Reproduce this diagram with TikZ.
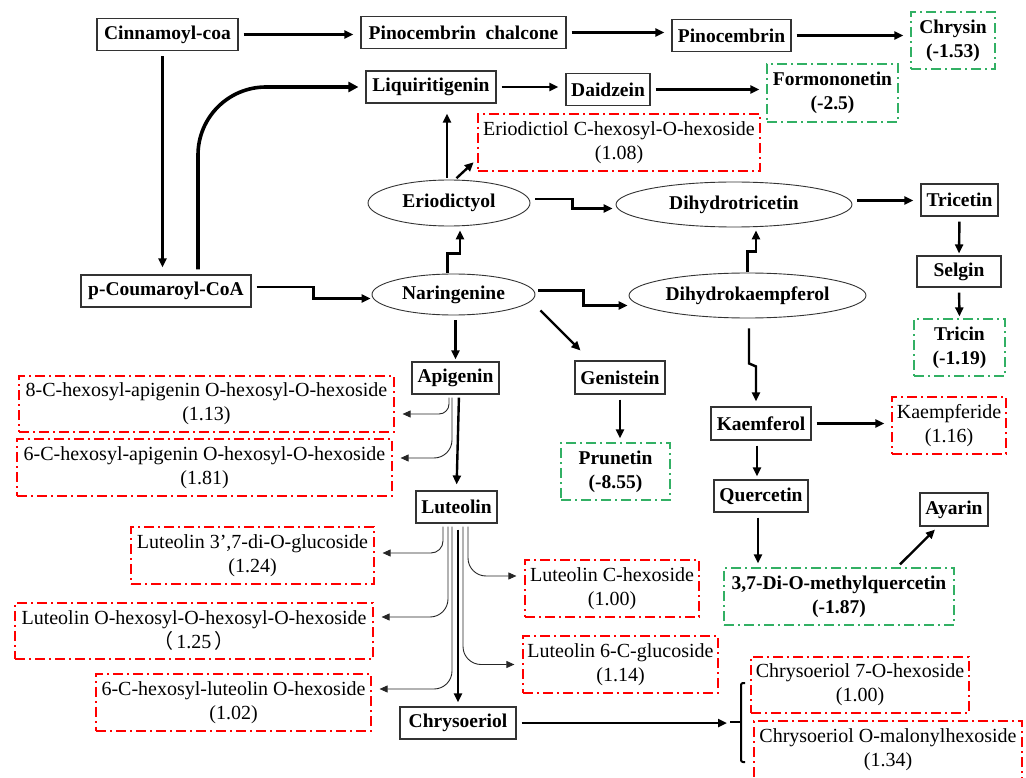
\documentclass[tikz,border=0pt]{standalone}
\usepackage{fontspec}
\setmainfont{Liberation Serif}
\newfontfamily\cjk{Noto Sans CJK SC}
\usepackage{tikz}
\usetikzlibrary{calc,arrows.meta,shapes.geometric}
\definecolor{dgreen}{RGB}{50,176,100}

\begin{document}
\begin{tikzpicture}[x=1pt,y=-1pt,
  font=\fontsize{20}{24}\selectfont,
  >={Triangle[length=9pt,width=8pt]},
  box/.style={draw=black!80,line width=1.1pt,font=\fontsize{19.5}{24}\selectfont\bfseries,inner sep=0pt,minimum height=32pt},
  oval/.style={ellipse,draw=black!80,line width=0.9pt,font=\fontsize{19.5}{24}\selectfont\bfseries,inner sep=0pt},
  redbox/.style={draw=red,line width=1.2pt,dash pattern=on 10pt off 4pt on 2pt off 4pt,align=center,inner sep=0pt,minimum height=57pt},
  greenbox/.style={redbox,draw=dgreen,font=\fontsize{19.5}{24}\selectfont\bfseries},
  arr/.style={->,line width=2.4pt,shorten <=5pt,shorten >=7pt},
  thin/.style={->,draw=black!85,line width=0.9pt,rounded corners=18pt,shorten <=3pt,shorten >=8pt,>={Triangle[length=8pt,width=7pt]}}]
\useasboundingbox (0,0) rectangle (1026,778);
% Top row
\node[box,minimum width=141pt] (cin) at (167.5,34.5) {Cinnamoyl-coa};
\node[box,minimum width=205pt] (pch) at (463.5,32.5) {Pinocembrin~ chalcone};
\node[box,minimum width=119pt] (pin) at (731.5,35.5) {Pinocembrin};
\node[greenbox,minimum width=84pt] (chr) at (953,40.5) {Chrysin\\(-1.53)};
\node[box,minimum width=130pt] (liq) at (431,87) {Liquiritigenin};
\node[box,minimum width=84pt] (dai) at (608,89.5) {Daidzein};
\node[greenbox,minimum width=131pt,minimum height=58pt] (frm) at (832.5,93) {Formononetin\\(-2.5)};
\node[redbox,minimum width=282pt] (erg) at (619,142.5) {Eriodictiol C-hexosyl-O-hexoside\\(1.08)};
% Ovals
\node[oval,minimum width=162pt,minimum height=46pt] (eri) at (449,203) {Eriodictyol};
\node[oval,minimum width=236pt,minimum height=45pt] (dht) at (734,204.5) {Dihydrotricetin};
\node[oval,minimum width=163pt,minimum height=41pt] (nar) at (453.5,294.5) {Naringenine};
\node[oval,minimum width=237pt,minimum height=45pt] (dhk) at (747.5,295.5) {Dihydrokaempferol};
% Right column
\node[box,minimum width=77pt] (tce) at (959.5,200) {Tricetin};
\node[box,minimum width=84pt,minimum height=31pt] (sel) at (959,271.5) {Selgin};
\node[greenbox,minimum width=91pt] (tri) at (959.5,347.5) {Tricin\\(-1.19)};
\node[box,minimum width=170pt] (cou) at (166,291) {p-Coumaroyl-CoA};
% Middle
\node[box,minimum width=90pt,minimum height=33pt] (gen) at (620,377.5) {Genistein};
\node[greenbox,minimum width=109pt] (pru) at (615.5,471.5) {Prunetin\\(-8.55)};
\node[box,minimum width=100pt,minimum height=33pt] (kae) at (761,423.5) {Kaemferol};
\node[redbox,minimum width=114pt] (kfd) at (949,425.5) {Kaempferide\\(1.16)};
\node[box,minimum width=94pt] (que) at (761,496) {Quercetin};
\node[box,minimum width=68pt,minimum height=33pt] (aya) at (954,509.5) {Ayarin};
\node[greenbox,minimum width=230pt] (dmq) at (839,596.5) {3,7-Di-O-methylquercetin\\(-1.87)};
% Apigenin and Luteolin
\node[box,minimum width=87pt] (api) at (455.5,378) {Apigenin};
\node[redbox,minimum width=375pt,minimum height=56pt] (ag8) at (206.5,404) {8-C-hexosyl-apigenin O-hexosyl-O-hexoside\\(1.13)};
\node[redbox,minimum width=375pt] (ag6) at (204.5,467.5) {6-C-hexosyl-apigenin O-hexosyl-O-hexoside\\(1.81)};
\node[box,minimum width=81pt] (lut) at (456.5,507) {Luteolin};
\node[redbox,minimum width=243pt] (lg1) at (252.5,555.5) {Luteolin 3’,7-di-O-glucoside\\(1.24)};
\node[redbox,minimum width=358pt,minimum height=56pt] (lg2) at (194,631) {Luteolin O-hexosyl-O-hexosyl-O-hexoside\\{\cjk （}\,1.25\,{\cjk ）}};
\node[redbox,minimum width=275pt] (lg3) at (233.5,702.5) {6-C-hexosyl-luteolin O-hexoside\\(1.02)};
\node[redbox,minimum width=174pt] (lch) at (612,588.5) {Luteolin C-hexoside\\(1.00)};
\node[redbox,minimum width=195pt] (l6c) at (620.5,664.5) {Luteolin 6-C-glucoside\\(1.14)};
\node[box,minimum width=116pt] (cso) at (458,723) {Chrysoeriol};
\node[redbox,minimum width=218pt,minimum height=56pt] (ch7) at (860,685) {Chrysoeriol 7-O-hexoside\\(1.00)};
\node[redbox,minimum width=268pt,minimum height=58pt] (chm) at (888,750) {Chrysoeriol O-malonylhexoside\\(1.34)};
\coordinate (brc) at (730,722);
% Top arrows
\draw[arr] (cin.east) -- (cin.east -| pch.west);
\draw[arr] (pch.east) -- (pch.east -| pin.west);
\draw[arr] (pin.east) -- (pin.east -| chr.west);
\draw[arr] ([xshift=-5pt]cin.south) -- ([xshift=-5pt]cin.south |- cou.north);
\draw[arr,line width=3.6pt,rounded corners=68pt,>={Triangle[length=10pt,width=10pt]}] ([xshift=32pt]cou.north) |- (liq.west);
\draw[arr] (liq.east) -- (liq.east -| dai.west);
\draw[arr] (dai.east) -- (dai.east -| frm.west);
% Eriodictyol and Naringenine
\draw[arr,shorten <=2pt,shorten >=10pt] ([xshift=-2pt]eri.north) -- ([xshift=-2pt]eri.north |- liq.south);
\draw[arr,shorten <=2pt,shorten >=1pt] ([xshift=6pt]eri.north) -- ($(erg.south west)+(-3,-10)$);
\draw[arr,shorten <=1pt,shorten >=4pt] ([xshift=-6pt]nar.north) -- ++(0,-20) -| ([xshift=11pt]eri.south);
\draw[arr,shorten >=1pt] ([yshift=4pt]cou.east) -- ++(62,0) |- ([yshift=-4pt]nar.west);
\draw[arr,shorten >=3pt] ([yshift=4pt]eri.east) -- ++(42,0) |- ([yshift=-4pt]dht.west);
\draw[arr] ([yshift=4pt]dht.east) -- ([yshift=4pt]dht.east -| tce.west);
\draw[arr,shorten >=2pt] (tce.south) -- (sel.north);
\draw[arr,shorten >=2pt] (sel.south) -- (tri.north);
\draw[arr,shorten <=1pt,shorten >=3pt] (dhk.north) -- ++(0,-21) -| ([xshift=22pt]dht.south);
\draw[arr,shorten <=3pt,shorten >=1pt] ([yshift=4pt]nar.east) -- ++(48,0) |- ([yshift=-10pt]dhk.west);
\draw[arr,shorten <=0pt,shorten >=0pt] ($(nar.east)+(5,16)$) -- ($(gen.north west)+(6,-10)$);
\draw[arr,shorten >=2pt] (api.north |- nar.south) -- (api.north);
\draw[arr,shorten >=4pt] (gen.south) -- (gen.south |- pru.north);
% Kaemferol branch
\draw[arr,shorten <=10pt,shorten >=5pt] ([xshift=1.5pt]dhk.south) -- ++(0,45) -- ++(7,3) -- ([xshift=-5pt]kae.north);
\draw[arr] (kae.east) -- (kae.east -| kfd.west);
\draw[arr,shorten >=3pt] ([xshift=-4pt]kae.south) -- ([xshift=-4pt]kae.south |- que.north);
\draw[arr,shorten >=4pt] ([xshift=-3pt]que.south) -- ([xshift=-3pt]que.south |- dmq.north);
\draw[arr,shorten <=0pt,shorten >=0pt] ($(dmq.north)+(61,-3)$) -- ($(aya.south)+(-19,3)$);
% Apigenin branches
\draw[arr,shorten <=3pt,shorten >=6pt] ([xshift=3.5pt]api.south) -- (lut.north);
\draw[thin,rounded corners=10pt] ([xshift=-6.5pt]api.south) |- ([yshift=-10pt]ag8.east);
\draw[thin] ([xshift=-3.5pt]api.south) |- ([yshift=9.5pt]ag6.east);
% Luteolin branches
\draw[thin,rounded corners=12pt] ([xshift=-13.5pt]lut.south) |- ([yshift=2.5pt]lg1.east);
\draw[thin] ([xshift=-8.5pt]lut.south) |- ([yshift=14pt]lg2.east);
\draw[thin] ([xshift=-4.5pt]lut.south) |- ([yshift=13.5pt]lg3.east);
\draw[thin] ([xshift=11.5pt]lut.south) |- ([yshift=12.5pt]lch.west);
\draw[thin] ([xshift=6.5pt]lut.south) |- (l6c.west);
\draw[arr,shorten <=6pt,shorten >=4pt] ([xshift=1.5pt]lut.south) -- ([xshift=1.5pt]lut.south |- cso.north);
% Chrysoeriol to the bracket
\draw[arr,shorten >=3pt] (cso.east) -- (cso.east -| brc);
\draw[line width=2pt] (brc) -- ++(11,0);
\draw[line width=2pt,rounded corners=2pt] (745,683) -- (741,683) -- (741,762) -- (745,762);
\end{tikzpicture}
\end{document}
